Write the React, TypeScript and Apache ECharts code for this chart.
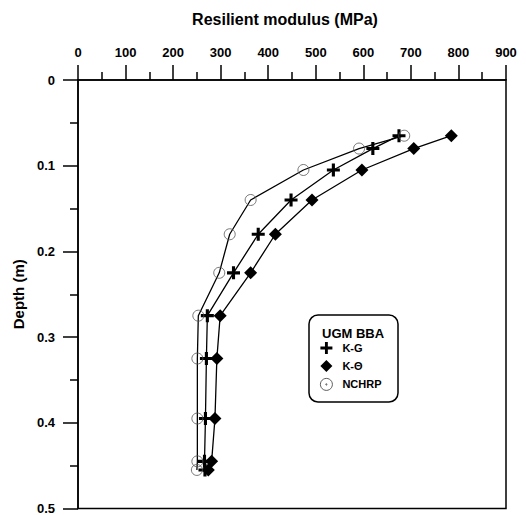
import React, { useEffect, useRef } from "react";
import * as echarts from "echarts";

const depths = [0.065, 0.08, 0.105, 0.14, 0.18, 0.225, 0.275, 0.325, 0.395, 0.445, 0.455];
const kg = [675, 620, 537, 448, 379, 327, 272, 270, 268, 266, 267];
const kTheta = [785, 706, 597, 492, 415, 363, 299, 292, 288, 281, 274];
const nchrp = [686, 591, 474, 363, 319, 297, 253, 251, 251, 251, 250];
const seriesNames = ["K-G", "K-\u0398", "NCHRP"];

const FONT = "'Liberation Sans', Arial, sans-serif";
const CROSS = "path://M3.8,0H6.2V3.8H10V6.2H6.2V10H3.8V6.2H0V3.8H3.8Z";
const RING_DOT =
  "path://M10,0A10,10,0,1,1,9.99,0ZM10,9A1,1,0,1,1,9.99,9Z";

const pairs = (xs: number[]) => xs.map((x, i) => [x, depths[i]]);

export default function App() {
  const ref = useRef<HTMLDivElement>(null);
  useEffect(() => {
    if (!ref.current) return;
    const chart = echarts.init(ref.current, undefined, { renderer: "svg" });
    const axisText = { color: "#000", fontFamily: FONT, fontWeight: "bold" as const, fontSize: 13 };
    const line = { color: "#000", width: 1.5 };
    chart.setOption({
      animation: false,
      backgroundColor: "#fff",
      grid: {
        left: 78,
        right: 20,
        top: 80,
        bottom: 5,
        show: true,
        borderColor: "#000",
        borderWidth: 1.5,
        containLabel: false,
      },
      xAxis: {
        type: "value",
        position: "top",
        min: 0,
        max: 900,
        interval: 100,
        name: "Resilient modulus (MPa)",
        nameLocation: "middle",
        nameGap: 53,
        nameTextStyle: { ...axisText, fontSize: 16, padding: [0, 14, 0, 0] },
        axisLine: { show: true, lineStyle: line },
        axisTick: { show: true, length: 15, lineStyle: line },
        minorTick: { show: true, splitNumber: 2, length: 8, lineStyle: line },
        axisLabel: { ...axisText, margin: 21 },
        splitLine: { show: false },
      },
      yAxis: {
        type: "value",
        inverse: true,
        min: 0,
        max: 0.5,
        interval: 0.1,
        name: "Depth (m)",
        nameLocation: "middle",
        nameGap: 45,
        nameTextStyle: { ...axisText, fontSize: 15 },
        axisLine: { show: true, lineStyle: line },
        axisTick: { show: true, length: 15, lineStyle: line },
        minorTick: { show: true, splitNumber: 2, length: 8, lineStyle: line },
        axisLabel: { ...axisText, margin: 23 },
        splitLine: { show: false },
      },
      legend: {
        left: 320,
        top: 342,
        padding: 0,
        orient: "vertical",
        itemWidth: 12,
        itemHeight: 12,
        itemGap: 6,
        selectedMode: false,
        textStyle: { color: "#000", fontFamily: FONT, fontWeight: "bold", fontSize: 11, padding: [0, 0, 0, 5], lineHeight: 12 },
        data: [
          { name: seriesNames[0], icon: CROSS, itemStyle: { color: "#000", borderWidth: 0 } },
          { name: seriesNames[1], icon: "diamond", itemStyle: { color: "#000", borderWidth: 0 } },
          {
            name: seriesNames[2],
            icon: RING_DOT,
            itemStyle: { color: "rgba(0,0,0,0)", borderColor: "#333", borderWidth: 0.8 },
          },
        ],
      },
      graphic: [
        {
          type: "rect",
          z: 1,
          shape: { x: 309, y: 315, width: 89, height: 87, r: 9 },
          style: { fill: "#fff", stroke: "#000", lineWidth: 1.5 },
        },
        {
          type: "text",
          z: 2,
          x: 322,
          y: 333,
          style: {
            text: "UGM BBA",
            fill: "#000",
            font: `bold 13px ${FONT}`,
            verticalAlign: "middle",
            align: "left",
          },
        },
      ],
      series: [
        {
          name: seriesNames[0],
          type: "line",
          data: pairs(kg),
          symbol: CROSS,
          symbolSize: 13,
          itemStyle: { color: "#000" },
          lineStyle: { color: "#000", width: 1.3 },
          z: 3,
        },
        {
          name: seriesNames[1],
          type: "line",
          data: pairs(kTheta),
          symbol: "diamond",
          symbolSize: 13,
          itemStyle: { color: "#000" },
          lineStyle: { color: "#000", width: 1.3 },
          z: 3,
        },
        {
          name: seriesNames[2],
          type: "line",
          data: pairs(nchrp),
          symbol: "circle",
          symbolSize: 11,
          itemStyle: { color: "rgba(0,0,0,0)", borderColor: "#555", borderWidth: 0.8 },
          lineStyle: { color: "#000", width: 1.3 },
          z: 3,
        },
      ],
    });
    return () => chart.dispose();
  }, []);
  return (
    <div
      ref={ref}
      style={{ position: "fixed", left: 0, top: 0, width: 526, height: 515 }}
    />
  );
}
